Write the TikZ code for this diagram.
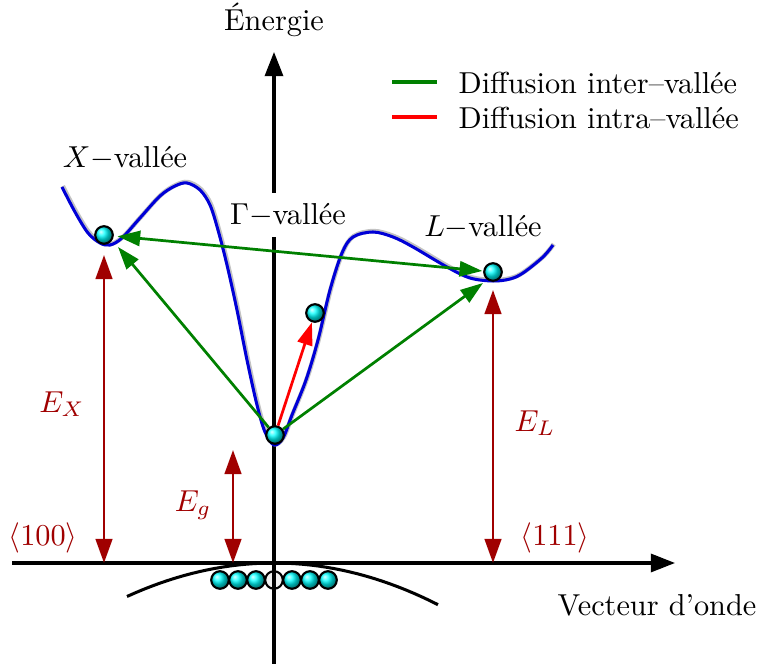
\documentclass[tikz,border=0pt]{standalone}
\usepackage{tikz}
\usetikzlibrary{arrows.meta}
\definecolor{bandblue}{RGB}{0,0,215}
\definecolor{intergreen}{RGB}{0,128,0}
\definecolor{intrared}{RGB}{255,0,0}
\definecolor{gapred}{RGB}{160,0,0}
\definecolor{shadowgrey}{RGB}{195,195,195}
\tikzset{
  base/.style={inner sep=1pt, text=black},
  lbl/.style={base},
  gaplbl/.style={base, text=gapred},
  ball/.style={circle, draw=black, line width=0.7pt, ball color=cyan, minimum size=5.8pt, inner sep=0pt},
  hole/.style={circle, draw=black, line width=0.7pt, fill=black!6, minimum size=5.8pt, inner sep=0pt},
  axis/.style={-{Triangle[length=8pt,width=6pt]}, line width=1pt, draw=black},
  arrg/.style={-{Triangle[length=7.5pt,width=5pt]}, line width=0.9pt, draw=intergreen},
  arrg2/.style={arrg, {Triangle[length=7.5pt,width=5pt]}-{Triangle[length=7.5pt,width=5pt]}},
  arrr/.style={arrg, draw=intrared},
  arrgap/.style={{Triangle[length=8pt,width=5.5pt]}-{Triangle[length=8pt,width=5.5pt]}, line width=0.9pt, draw=gapred},
  band/.style={line width=1pt, draw=bandblue, preaction={draw=shadowgrey, line width=1.5pt, transform canvas={xshift=0.25pt,yshift=0.3pt}}},
}

\begin{document}
\begin{tikzpicture}[x=0.33pt,y=-0.33pt]
  \useasboundingbox (0,0) rectangle (765,664);
  % valence band with its holes
  \draw[line width=1pt] plot[domain=-1.47:1.64,samples=40] ({274+100*\x},{563+15.5*\x*\x});
  \foreach \i in {0,1,2,4,5,6}{\node[ball] (v\i) at (220+18*\i,580) {};}
  \node[hole] (v3) at (274,580) {};
  % axes
  \coordinate (hstart) at (12,563);
  \coordinate (hend) at (675,563);
  \coordinate (vstart) at (274,664);
  \coordinate (vend) at (274,52);
  \draw[axis] (hstart) -- (hend);
  \draw[axis] (vstart) -- (vend);
  \node[lbl] (ene) at (274,20) {Énergie};
  \node[lbl] (vec) at (657,605) {Vecteur d'onde};
  % legend
  \coordinate (lga) at (392,82);  \coordinate (lgb) at (437,82);
  \coordinate (lgc) at (392,117); \coordinate (lgd) at (437,117);
  \draw[intergreen, line width=1pt] (lga) -- (lgb);
  \draw[intrared, line width=1pt] (lgc) -- (lgd);
  \node[lbl, anchor=west] (leginter) at (455,83)  {Diffusion inter–vallée};
  \node[lbl, anchor=west] (legintra) at (455,118) {Diffusion intra–vallée};
  % valley labels
  \node[lbl] (xlbl) at (125,158) {$X-$vallée};
  \node[lbl, fill=white, inner sep=3.5pt] (glbl) at (288,215) {$\Gamma-$vallée};
  \node[lbl] (llbl) at (483,227) {$L-$vallée};
  % conduction band
  \draw[band] plot[smooth, tension=0.55] coordinates {
    (62,187) (75,212) (88,233) (100,243) (110,245) (122,238) (140,218) (160,196)
    (175,186) (187,183) (200,190) (210,205) (218,230) (227,265) (237,310) (247,360)
    (257,405) (265,432) (274,445) (283,438) (292,415) (306,380) (318,340) (330,290)
    (342,253) (353,237) (373,232) (393,237) (413,247) (447,267) (470,278) (493,281)
    (510,279) (523,273) (543,257) (553,245)};
  % electrons
  \node[ball] (xb) at (104,235) {};
  \node[ball] (lb) at (493,272) {};
  \node[ball] (gb) at (275,435) {};
  \node[ball] (ib) at (315,313) {};
  % scattering
  \coordinate (xtip) at (118,247);
  \coordinate (ltip) at (483,283);
  \draw[arrg] (gb) -- (xtip);
  \draw[arrg] (gb) -- (ltip);
  \draw[arrg2, shorten <=1.2pt, shorten >=0.3pt] (xb) -- (lb);
  \draw[arrr] (gb) -- (ib);
  % energy gaps
  \foreach \n/\x/\y in {ex/104/255, eg/233/450, el/493/290}{
    \coordinate (\n-t) at (\x,\y);
    \coordinate (\n-b) at (\x,563);
    \draw[arrgap] (\n-t) -- (\n-b);
  }
  \node[gaplbl] (exlbl) at (62,404) {$E_X$};
  \node[gaplbl] (eglbl) at (193,505) {$E_g$};
  \node[gaplbl] (ellbl) at (535,423) {$E_L$};
  \node[gaplbl] (dir100) at (43,538) {$\langle 100\rangle$};
  \node[gaplbl] (dir111) at (555,538) {$\langle 111\rangle$};
\end{tikzpicture}
\end{document}
